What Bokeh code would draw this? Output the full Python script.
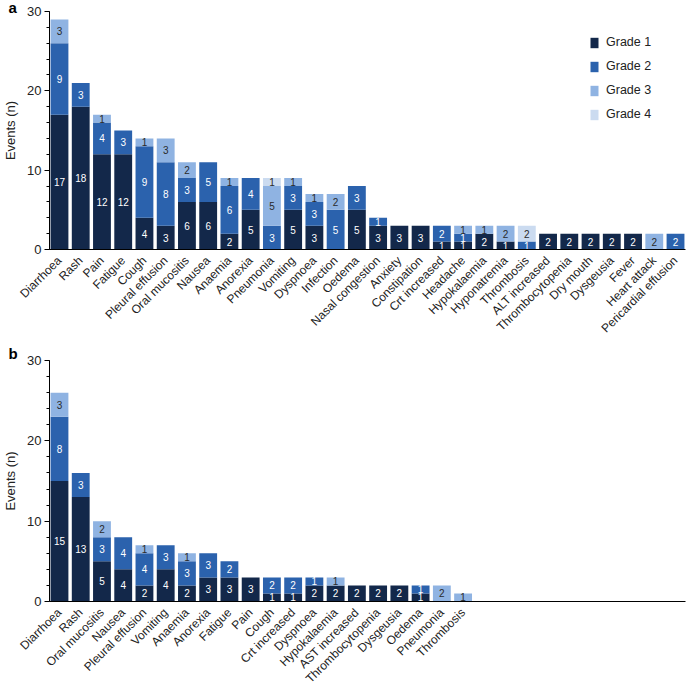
import math
from bokeh.plotting import figure
from bokeh.models import (ColumnDataSource, Range1d, FixedTicker, SingleIntervalTicker,
                          Legend, LegendItem)
from bokeh.layouts import column
from bokeh.embed import file_html
from bokeh.resources import INLINE
from bokeh.core.properties import value

FONT = "Liberation Sans"

# ---------------- Panel a data ----------------
cats_a = ["Diarrhoea", "Rash", "Pain", "Fatigue", "Cough", "Pleural effusion", "Oral mucositis",
          "Nausea", "Anaemia", "Anorexia", "Pneumonia", "Vomiting", "Dyspnoea", "Infection",
          "Oedema", "Nasal congestion", "Anxiety", "Constipation", "Crt increased", "Headache",
          "Hypokalaemia", "Hyponatremia", "Thrombosis", "ALT increased", "Thrombocytopenia",
          "Dry mouth", "Dysgeusia", "Fever", "Heart attack", "Pericardial effusion"]
g1_a = [17, 18, 12, 12, 4, 3, 6, 6, 2, 5, 0, 5, 3, 0, 5, 3, 3, 3, 1, 1, 2, 1, 0, 2, 2, 2, 2, 2, 0, 0]
g2_a = [9, 3, 4, 3, 9, 8, 3, 5, 6, 4, 3, 3, 3, 5, 3, 1, 0, 0, 2, 1, 0, 0, 1, 0, 0, 0, 0, 0, 0, 2]
g3_a = [3, 0, 1, 0, 1, 3, 2, 0, 1, 0, 5, 1, 1, 2, 0, 0, 0, 0, 0, 1, 1, 2, 0, 0, 0, 0, 0, 0, 2, 0]
g4_a = [0, 0, 0, 0, 0, 0, 0, 0, 0, 0, 1, 0, 0, 0, 0, 0, 0, 0, 0, 0, 0, 0, 2, 0, 0, 0, 0, 0, 0, 0]

# ---------------- Panel b data ----------------
cats_b = ["Diarrhoea", "Rash", "Oral mucositis", "Nausea", "Pleural effusion", "Vomiting",
          "Anaemia", "Anorexia", "Fatigue", "Pain", "Cough", "Crt increased", "Dyspnoea",
          "Hypokalaemia", "AST increased", "Thrombocytopenia", "Dysgeusia", "Oedema",
          "Pneumonia", "Thrombosis"]
g1_b = [15, 13, 5, 4, 2, 4, 2, 3, 3, 3, 1, 1, 2, 2, 2, 2, 2, 1, 0, 0]
g2_b = [8, 3, 3, 4, 4, 3, 3, 3, 2, 0, 2, 2, 1, 0, 0, 0, 0, 1, 0, 0]
g3_b = [3, 0, 2, 0, 1, 0, 1, 0, 0, 0, 0, 0, 0, 1, 0, 0, 0, 0, 2, 1]
g4_b = [0] * 20

grades = ["Grade 1", "Grade 2", "Grade 3", "Grade 4"]
colors = ["#13284a", "#2b62ad", "#8fb3e2", "#cbdbf0"]
text_colors = ["white", "white", "#2a2a2a", "#2a2a2a"]
N_SLOTS = 30


def build(cats, series, frame_h, letter, title_standoff, bottom_border, show_legend):
    n = len(cats)
    data = {"x": list(range(n))}
    keys = ["g1", "g2", "g3", "g4"]
    for k, s in zip(keys, series):
        data[k] = s
    src = ColumnDataSource(data)

    p = figure(frame_width=636, frame_height=frame_h, output_backend="svg",
               toolbar_location=None, title=letter,
               x_range=Range1d(-0.47, N_SLOTS - 0.53), y_range=Range1d(0, 30),
               min_border_left=38, min_border_right=4, min_border_top=0,
               min_border_bottom=bottom_border)
    p.outline_line_color = None
    p.xgrid.visible = False
    p.ygrid.visible = False

    p.title.align = "left"
    p.title.offset = -41
    p.title.standoff = title_standoff
    p.title.text_font = FONT
    p.title.text_font_size = "15px"
    p.title.text_font_style = "bold"
    p.title.text_color = "black"

    rs = p.vbar_stack(keys, x="x", width=0.84, color=colors, line_color=None, source=src)

    # segment labels
    lx, ly, lt, lc = [], [], [], []
    for i in range(n):
        base = 0
        for gi, s in enumerate(series):
            v = s[i]
            if v > 0:
                lx.append(i)
                ly.append(base + v / 2)
                lt.append(str(v))
                lc.append(text_colors[gi])
            base += v
    lsrc = ColumnDataSource(dict(x=lx, y=ly, t=lt, c=lc))
    p.text(x="x", y="y", text="t", text_color="c", source=lsrc, text_align="center",
           text_baseline="middle", text_font_size="10px", text_font=value(FONT))

    # x axis
    xa = p.xaxis[0]
    xa.ticker = FixedTicker(ticks=list(range(n)))
    xa.major_label_overrides = {i: c for i, c in enumerate(cats)}
    xa.major_label_orientation = math.pi / 4
    xa.major_tick_line_color = None
    xa.minor_tick_line_color = None
    xa.axis_line_color = "black"
    xa.axis_line_width = 1
    xa.major_label_standoff = 3
    xa.major_label_text_font = FONT
    xa.major_label_text_font_size = "12px"
    xa.major_label_text_color = "#222222"

    # y axis
    ya = p.yaxis[0]
    ya.ticker = SingleIntervalTicker(interval=10, num_minor_ticks=5)
    ya.major_tick_in = 0
    ya.major_tick_out = 5
    ya.minor_tick_in = 0
    ya.minor_tick_out = 3
    ya.axis_line_color = "black"
    ya.major_tick_line_color = "black"
    ya.minor_tick_line_color = "black"
    ya.major_label_text_font = FONT
    ya.major_label_text_font_size = "13px"
    ya.major_label_text_color = "#222222"
    ya.major_label_standoff = 3
    ya.axis_label = "Events (n)"
    ya.axis_label_text_font = FONT
    ya.axis_label_text_font_style = "normal"
    ya.axis_label_text_font_size = "13px"
    ya.axis_label_text_color = "#222222"
    ya.axis_label_standoff = 6

    if show_legend:
        items = [LegendItem(label=g, renderers=[r]) for g, r in zip(grades, rs)]
        leg = Legend(items=items, location=(540, 128), padding=0, spacing=10,
                     glyph_width=10, glyph_height=13, label_height=13, label_standoff=7,
                     label_text_font=FONT, label_text_font_size="12.5px",
                     label_text_color="#222222", border_line_color=None,
                     background_fill_alpha=0)
        p.add_layout(leg)
    return p


pa = build(cats_a, [g1_a, g2_a, g3_a, g4_a], 238, "a", -8, 0, True)
pb = build(cats_b, [g1_b, g2_b, g3_b, g4_b], 241, "b", -2, 80, False)

layout = column(pa, pb, spacing=0)
open("out.html", "w").write(file_html(layout, INLINE))
